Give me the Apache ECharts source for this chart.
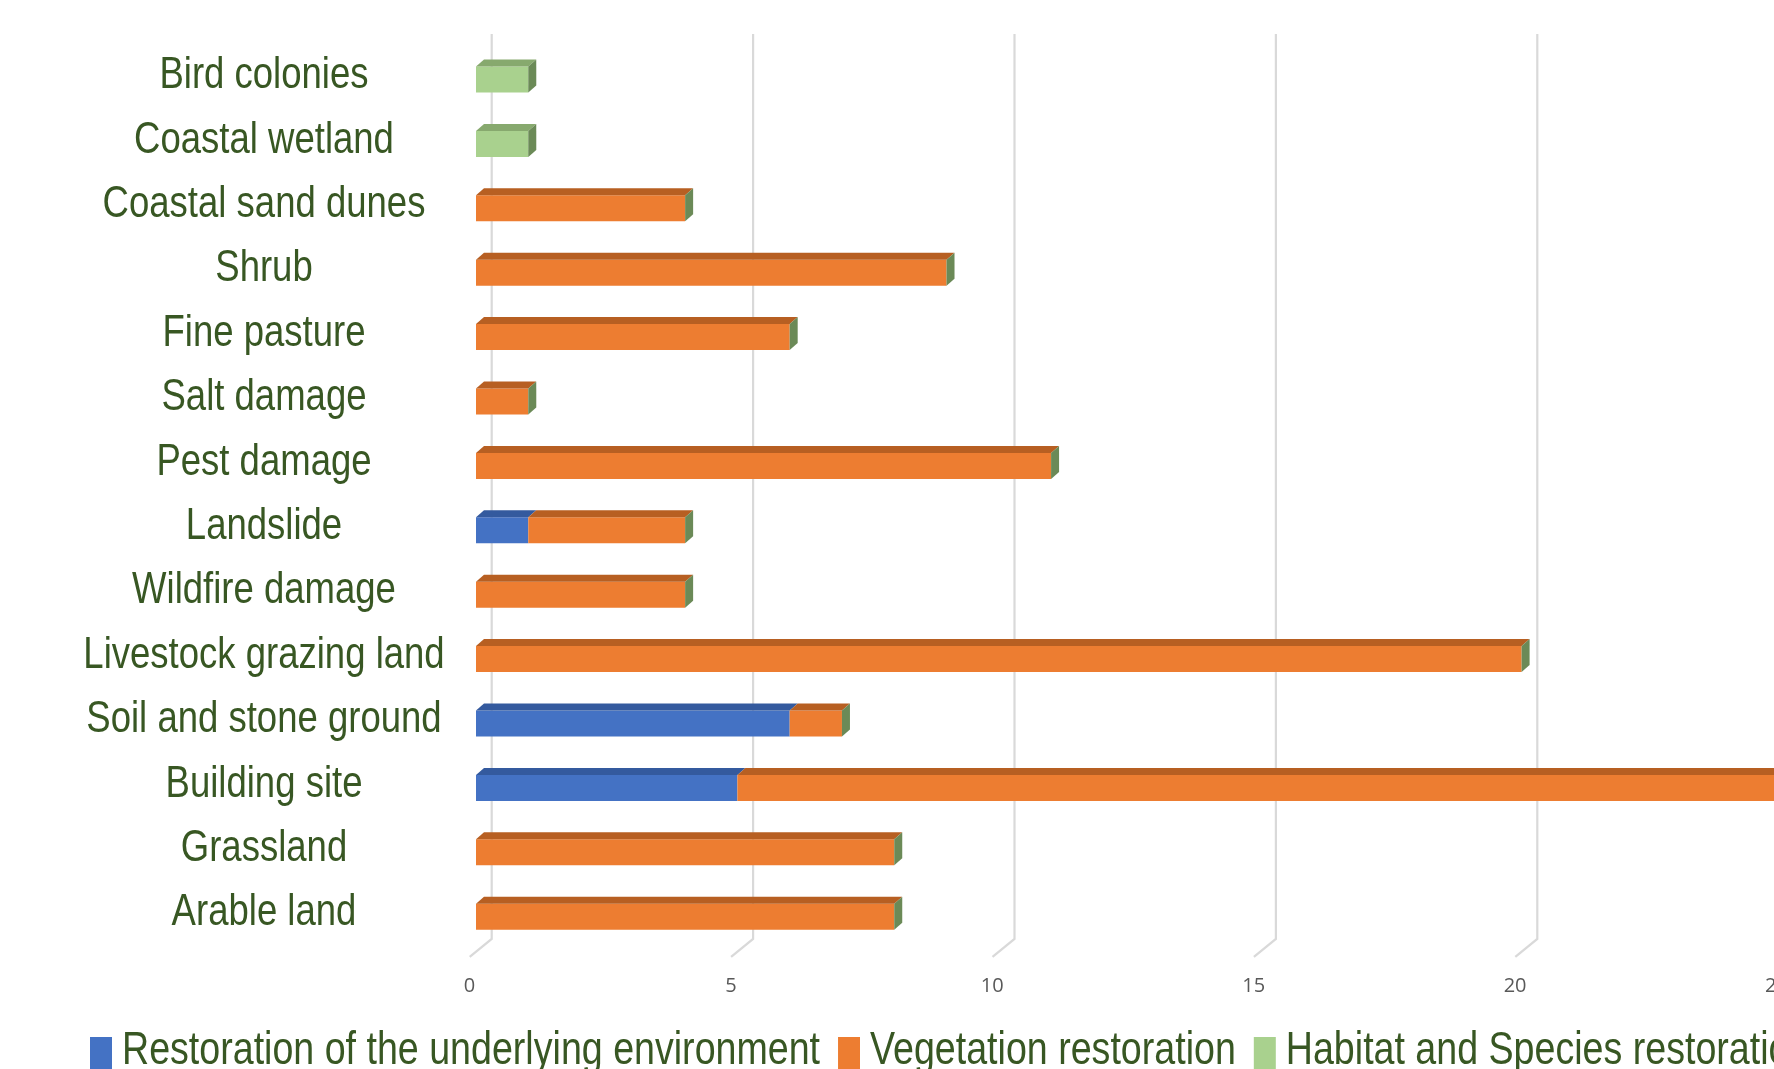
<!DOCTYPE html>
<html>
<head>
<meta charset="utf-8">
<script src="https://cdn.jsdelivr.net/npm/echarts@6/dist/echarts.min.js"></script>
<style>
html,body{margin:0;padding:0;background:#fff;}
#chart{width:1774px;height:1069px;}
</style>
</head>
<body>
<div id="chart"></div>
<script>
const categories = ['Bird colonies','Coastal wetland','Coastal sand dunes','Shrub','Fine pasture','Salt damage','Pest damage','Landslide','Wildfire damage','Livestock grazing land','Soil and stone ground','Building site','Grassland','Arable land'];
const seriesNames = ['Restoration of the underlying environment','Vegetation restoration','Habitat and Species restoration'];
const underlying = [0,0,0,0,0,0,0,1,0,0,6,5,0,0];
const vegetation = [0,0,4,9,6,1,11,3,4,20,1,20,8,8];
const habitat    = [1,1,0,0,0,0,0,0,0,0,0,0,0,0];
const xTicks = [0,5,10,15,20,25];

const frontColors = ['#4472c4','#ed7d31','#a9d18e'];
const topColors   = ['#345a9e','#b75f22','#87a96e'];
const sideColor = '#6b8a57';
const textGreen = '#385723';
const SANS = "'Liberation Sans', Arial, sans-serif";
const SX = 0.83;          // horizontal text compression (narrow face)
const LABEL_SIZE = 44;
const LEGEND_SIZE = 45.3;

const DX = 8, DY = 7, FH = 26;

const allValues = [underlying, vegetation, habitat];
const starts = allValues.map((vals, k) => vals.map((v, i) => {
  let s = 0; for (let j = 0; j < k; j++) s += allValues[j][i]; return s;
}));
const totals = categories.map((c, i) => allValues.reduce((a, arr) => a + arr[i], 0));

function segmentRender(k) {
  return function (params, api) {
    const a = api.value(0), b = api.value(1), ci = api.value(2);
    if (b - a <= 0) return null;
    const p0 = api.coord([a, ci]);
    const p1 = api.coord([b, ci]);
    const top = p0[1] - FH / 2;
    return {
      type: 'group',
      children: [
        { type: 'rect', shape: { x: p0[0], y: top, width: p1[0] - p0[0], height: FH },
          style: { fill: frontColors[k] } },
        { type: 'polygon', shape: { points: [[p0[0], top], [p1[0], top], [p1[0] + DX, top - DY], [p0[0] + DX, top - DY]] },
          style: { fill: topColors[k] } }
      ]
    };
  };
}

const segSeries = seriesNames.map((name, k) => ({
  name: name,
  type: 'custom',
  renderItem: segmentRender(k),
  itemStyle: { color: frontColors[k] },
  encode: { x: [0, 1], y: 2 },
  data: allValues[k].map((v, i) => [starts[k][i], starts[k][i] + v, i]),
  z: 3
}));

const sideSeries = {
  name: 'side',
  type: 'custom',
  renderItem: function (params, api) {
    const t = api.value(0), ci = api.value(1);
    const p = api.coord([t, ci]);
    const top = p[1] - FH / 2, bot = p[1] + FH / 2;
    return { type: 'polygon', shape: { points: [[p[0], top], [p[0] + DX, top - DY], [p[0] + DX, bot - DY], [p[0], bot]] },
      style: { fill: sideColor } };
  },
  encode: { x: 0, y: 1 },
  data: totals.map((t, i) => [t, i]),
  z: 3
};

const gridSeries = {
  name: 'grid3d',
  type: 'custom',
  silent: true,
  renderItem: function (params, api) {
    const cs = params.coordSys;
    const x = api.coord([api.value(0), 0])[0];
    const bx = x + 15.7;
    const topY = cs.y - 13.3;
    const backBottom = cs.y + cs.height - 10;
    return { type: 'polyline', shape: { points: [[bx, topY], [bx, backBottom], [bx - 22, backBottom + 18]] },
      style: { stroke: '#d9d9d9', lineWidth: 2.2, fill: null } };
  },
  encode: { x: 0 },
  data: xTicks.map(v => [v]),
  z: 1
};

// category labels (narrow face) placed through the category axis
const labelSeries = {
  name: 'catLabels',
  type: 'custom',
  silent: true,
  renderItem: function (params, api) {
    const ci = api.value(0);
    const p = api.coord([0, ci]);
    return { type: 'text', x: p[0] - 212, y: p[1] - 3.5, scaleX: SX, scaleY: 1,
      style: { text: categories[ci], fill: textGreen, fontSize: LABEL_SIZE, fontFamily: SANS,
        align: 'center', verticalAlign: 'middle' } };
  },
  encode: { y: 0 },
  data: categories.map((c, i) => [i]),
  z: 4
};

// legend (narrow face)
const mctx = document.createElement('canvas').getContext('2d');
mctx.font = LEGEND_SIZE + 'px "Liberation Sans"';
const legendEls = [];
let lx = 90;
seriesNames.forEach((name, k) => {
  legendEls.push({ type: 'rect', left: lx, top: 1037, shape: { width: 22, height: 40 }, style: { fill: frontColors[k] } });
  const tx = lx + 32;
  legendEls.push({ type: 'text', x: tx, y: 1052, scaleX: SX,
    style: { text: name, fill: textGreen, fontSize: LEGEND_SIZE, fontFamily: SANS, align: 'left', verticalAlign: 'middle' } });
  const w = mctx.measureText(name).width * SX;
  lx = tx + w + 18;
});

const chart = echarts.init(document.getElementById('chart'), null, { renderer: 'canvas' });
chart.setOption({
  animation: false,
  backgroundColor: '#ffffff',
  grid: { left: 476, top: 47.3, width: 25 * 52.28, height: 14 * 64.4, containLabel: false, outerBoundsMode: 'none' },
  xAxis: {
    type: 'value', min: 0, max: 25, interval: 5,
    axisLine: { show: false }, axisTick: { show: false }, splitLine: { show: false },
    axisLabel: { show: true, color: '#595959', fontFamily: "'Open Sans',sans-serif", fontSize: 20, margin: 27,
      padding: [0, 13, 0, 0], showMaxLabel: true, hideOverlap: false }
  },
  yAxis: {
    type: 'category', inverse: true, data: categories,
    axisLine: { show: false }, axisTick: { show: false }, splitLine: { show: false },
    axisLabel: { show: false }
  },
  graphic: { elements: legendEls },
  series: [gridSeries].concat(segSeries, [sideSeries, labelSeries])
});
</script>
</body>
</html>
